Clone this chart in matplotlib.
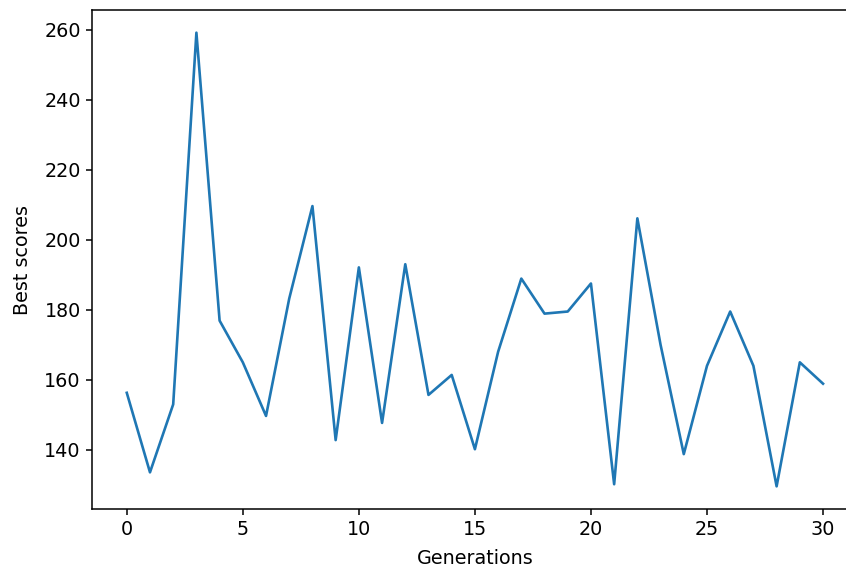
import numpy as np
import matplotlib
matplotlib.use("Agg")
import matplotlib.pyplot as plt

# best score per generation
generations = list(range(31))
best_scores = [156.3, 133.6, 153, 259.1, 176.9, 165, 149.7, 183.2, 209.6, 142.8,
               192.1, 147.7, 193, 155.7, 161.4, 140.2, 168, 188.9, 178.9, 179.5,
               187.5, 130.2, 206.1, 170, 138.8, 164, 179.5, 164, 129.6, 165, 158.9]

fig = plt.figure(figsize=(8.46, 5.74), dpi=100)
# right spine falls just outside the canvas in the reference
ax = fig.add_axes([0.1087, 0.1132, 1.014 - 0.1087, 0.9826 - 0.1132])
ax.plot(generations, best_scores, linewidth=1.9)
ax.set_xlabel("Generations", fontsize=13.8, labelpad=7)
ax.set_ylabel("Best scores", fontsize=13.8, labelpad=9)
ax.tick_params(labelsize=13.8, length=4.6, width=1.1)
for s in ax.spines.values():
    s.set_linewidth(1.1)
fig.savefig("out.png")
